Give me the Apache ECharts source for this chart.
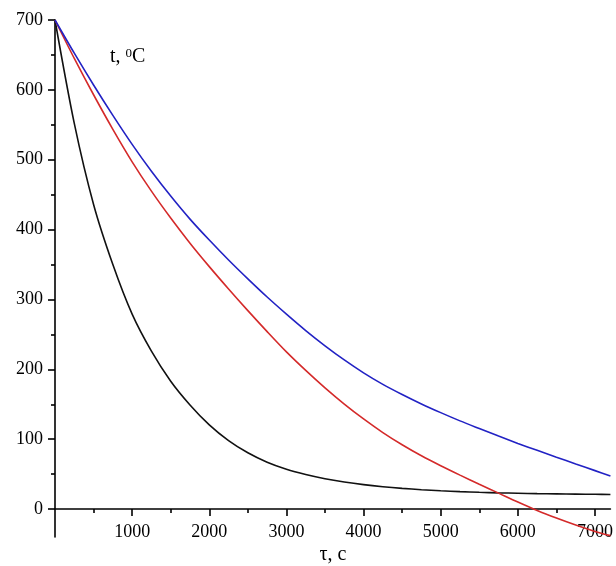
<!DOCTYPE html>
<html>
<head>
<meta charset="utf-8">
<script src="https://cdn.jsdelivr.net/npm/echarts@6/dist/echarts.min.js"></script>
<style>
html,body{margin:0;padding:0;background:#fff;}
#chart{width:616px;height:566px;}
</style>
</head>
<body>
<div id="chart"></div>
<script>
// time, s (every 250 s, last point 7200 s)
const times = [0,250,500,750,1000,1250,1500,1750,2000,2250,2500,2750,3000,3250,3500,3750,4000,4250,4500,4750,5000,5250,5500,5750,6000,6250,6500,6750,7000,7200];
// temperature, °C
const blackValues = [700,552,436,350,279,226,183,149,120.5,98,80.5,67,57,49.5,43.5,38.8,35,32,29.6,27.7,26.2,25,24,23.2,22.6,22.1,21.7,21.4,21.1,20.9];
const blueValues = [700,652.5,607,563.5,522,483.5,448,415,385,356.5,329.5,303.5,279,255.5,233.7,213.5,195,178.5,164,150.5,138,126.2,115.2,104.4,94,84,74.2,64.5,55,47.4];
const redValues = [700,645,593,543.5,497,455,416.5,380.5,347,315,284,254,225,198.5,173.5,150.3,129,109.5,92,76.2,62,48.6,35.6,22.8,10,-2,-12.8,-22.8,-32,-38];

const yMajorTicks = [0,100,200,300,400,500,600,700];
const yMinorTicks = [50,150,250,350,450,550,650];
const xMajorTicks = [1000,2000,3000,4000,5000,6000,7000];
const xMinorTicks = [500,1500,2500,3500,4500,5500,6500];

const yLabel = 't, ';
const xLabel = 'τ, c';

const pair = (xs, ys) => xs.map((x, i) => [x, ys[i]]);

const font = 'Liberation Serif';
const chart = echarts.init(document.getElementById('chart'));
const axisLineStyle = { color: '#000', width: 1.6 };
const plain = v => String(v);

chart.setOption({
  animation: false,
  backgroundColor: '#fff',
  grid: { left: 55, right: 5, top: 20, bottom: 29, containLabel: false },
  xAxis: [
    {
      type: 'value', min: 0, max: 7200, position: 'bottom',
      axisLine: { show: true, onZero: true, lineStyle: axisLineStyle },
      axisTick: { show: true, inside: false, length: 7, customValues: xMajorTicks, lineStyle: { color: '#000', width: 1.6 } },
      axisLabel: { show: true, customValues: xMajorTicks, margin: -14, formatter: plain, color: '#000', fontFamily: font, fontSize: 18 },
      splitLine: { show: false }
    },
    {
      type: 'value', min: 0, max: 7200, position: 'bottom',
      axisLine: { show: false, onZero: true },
      axisTick: { show: true, inside: false, length: 4, customValues: xMinorTicks, lineStyle: { color: '#000', width: 1.6 } },
      axisLabel: { show: false },
      splitLine: { show: false }
    }
  ],
  yAxis: [
    {
      type: 'value', min: -40, max: 700, position: 'left',
      axisLine: { show: true, onZero: true, lineStyle: axisLineStyle },
      axisTick: { show: true, inside: false, length: 7, customValues: yMajorTicks, lineStyle: { color: '#000', width: 1.6 } },
      axisLabel: { show: true, customValues: yMajorTicks, margin: 12, formatter: plain, color: '#000', fontFamily: font, fontSize: 18 },
      splitLine: { show: false }
    },
    {
      type: 'value', min: -40, max: 700, position: 'left',
      axisLine: { show: false, onZero: true },
      axisTick: { show: true, inside: false, length: 4, customValues: yMinorTicks, lineStyle: { color: '#000', width: 1.6 } },
      axisLabel: { show: false },
      splitLine: { show: false }
    }
  ],
  series: [
    { type: 'line', name: 'black', data: pair(times, blackValues), smooth: 0.3, showSymbol: false,
      lineStyle: { color: '#111', width: 1.6 }, xAxisIndex: 0, yAxisIndex: 0 },
    { type: 'line', name: 'red', data: pair(times, redValues), smooth: 0.3, showSymbol: false,
      lineStyle: { color: '#d42a2a', width: 1.6 }, xAxisIndex: 0, yAxisIndex: 0 },
    { type: 'line', name: 'blue', data: pair(times, blueValues), smooth: 0.3, showSymbol: false,
      lineStyle: { color: '#2222c4', width: 1.6 }, xAxisIndex: 0, yAxisIndex: 0 }
  ],
  graphic: [
    { type: 'text', left: 110, top: 47,
      style: { text: yLabel + '{s|0}C', fontFamily: font, fontSize: 20, fill: '#000',
        rich: { s: { fontFamily: font, fontSize: 13, verticalAlign: 'top', fill: '#000' } } } },
    { type: 'text', x: 333, y: 555,
      style: { text: xLabel, fontFamily: font, fontSize: 20, fill: '#000', align: 'center', verticalAlign: 'middle' } }
  ]
});
</script>
</body>
</html>
